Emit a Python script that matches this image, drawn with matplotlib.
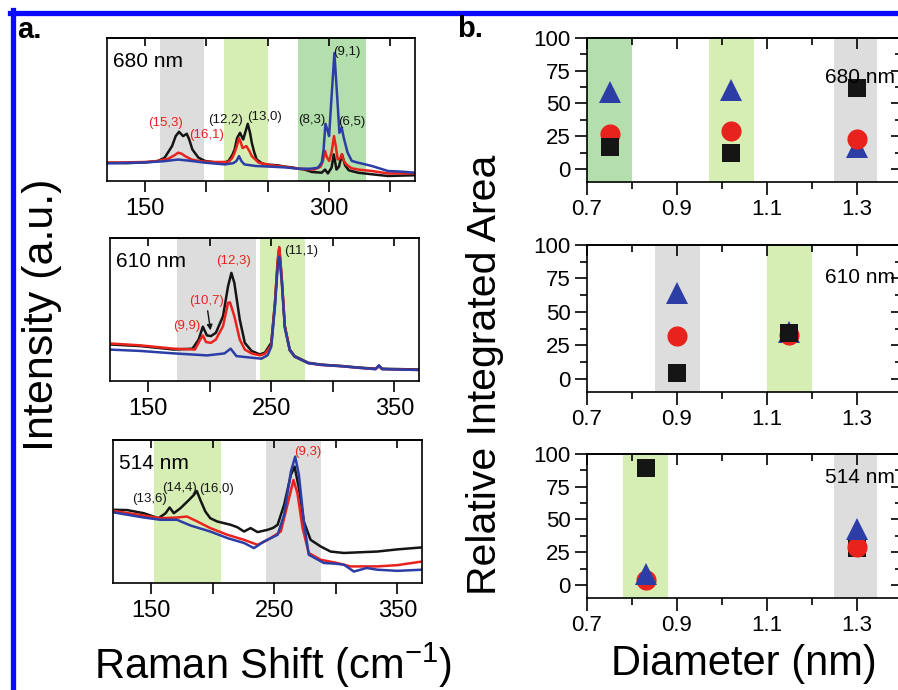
import matplotlib
matplotlib.use("Agg")
import matplotlib.pyplot as plt
from matplotlib.lines import Line2D

plt.rcParams.update({
    "font.family": ["Liberation Sans", "DejaVu Sans"],
    "mathtext.default": "regular",
    "axes.linewidth": 1.2,
})

BLACK = "#151515"
RED = "#e8231d"
BLUE = "#2c3ea6"
GRAY_BAND = "#dddddd"
LGREEN_BAND = "#d6eeb4"
DGREEN_BAND = "#b3dfac"

# ---- panel a: spectra (intensity in % of axis height) ----
X680_BLACK = [120, 135, 150, 160, 166, 172, 175, 177.7, 181, 184, 186, 188.6, 193.5, 199, 205, 210,
              215, 218, 221, 223, 225, 227.4, 230, 233.7, 235.5, 237, 239, 241, 245, 248, 253, 258,
              264, 270, 275, 280, 286, 291, 294, 296.7, 299, 302, 303.8, 306, 308, 310.5, 313, 316,
              323.6, 334.8, 348, 360, 370]
Y680_BLACK = [12.8, 12.5, 13, 13.8, 16.3, 24.4, 31.4, 34.4, 31.4, 33, 29, 22, 16.3, 14, 13.3, 12.8,
              13, 14, 18, 22, 30, 33.7, 29, 40, 34, 26.7, 20, 15, 12.5, 11.6, 11.3, 11,
              10, 9.5, 8.6, 8, 6.3, 6, 5.8, 8, 5.3, 9.3, 18.6, 8, 10, 18.6, 11, 7.5,
              5.8, 4.7, 3.5, 3.8, 4]
X680_RED = [120, 150, 160, 169, 174, 177, 180, 182.6, 188, 195, 205, 218, 221, 223, 225, 226.6, 228,
            229.5, 232.6, 235, 237, 242.6, 253, 264, 275, 288, 293, 295, 296.7, 298, 300, 302, 304,
            305.5, 307, 309, 310.3, 312, 314, 318, 323.6, 334.8, 348, 360, 370]
Y680_RED = [12.8, 13.3, 14, 15.6, 18, 19.8, 19, 17.4, 15, 13.8, 13.3, 13.3, 16, 19.8, 25, 30, 27,
            23, 24.4, 21, 17.4, 12.8, 11, 10, 8.6, 8, 10, 14, 21, 17, 14, 20, 31.4,
            24, 15, 16, 18.6, 14, 11.6, 9, 8, 7, 5.3, 5.3, 5.3]
X680_BLUE = [120, 150, 165, 177, 188, 199, 215, 222, 224.5, 226.6, 228.5, 231, 240, 253, 264, 275,
             285, 291, 294, 295.5, 297, 298.5, 300, 301.8, 304.3, 306.8, 308.4, 310.3, 312, 315,
             318.5, 323.6, 330, 334.8, 348, 360, 370]
Y680_BLUE = [12.3, 13, 13.8, 15, 14, 12.8, 11.6, 12.5, 14, 17.4, 14, 11.6, 10.5, 10, 9.5, 8.6,
             8.6, 9.3, 13, 22, 40, 36, 31.4, 56, 89.5, 56, 33.7, 37.2, 30, 20,
             14, 12.8, 11.5, 10.5, 7, 6.5, 5.8]

X610_BLACK = [118, 144, 171, 186, 191, 194.4, 197.7, 201, 205, 210.8, 214.9, 217.6, 220, 224.4,
              228.5, 234, 240.7, 244.8, 250, 253, 255.2, 256.5, 258.4, 261, 265, 269, 280, 290,
              307.5, 320, 334.7, 337.5, 340, 355, 372]
Y610_BLACK = [25.6, 24.4, 22, 22.6, 29, 38, 31.9, 31.4, 33.7, 45.3, 66.3, 75.6, 68.6, 43,
              26.7, 21, 18.6, 19.8, 26.7, 54.7, 82.6, 93, 73, 38.4, 22, 17.4, 12.8, 11.5,
              10.5, 9.5, 8.6, 10.5, 8.6, 8.3, 8]
X610_RED = [118, 144, 171, 188, 191.7, 194.4, 197, 201, 205, 210.8, 214.9, 216.5, 220, 224.4,
            228.5, 234, 240.7, 244.8, 250, 253, 255.2, 256.5, 258.4, 261, 265, 269, 280, 290,
            307.5, 320, 334.7, 337.5, 340, 355, 372]
Y610_RED = [26.3, 24.9, 22.6, 22, 28, 31.9, 27.2, 26.7, 29, 38.4, 54.7, 55, 45.3, 29,
            22, 19.3, 17.9, 19, 25, 54.7, 85, 93.7, 73, 38.4, 21.5, 17, 12.5, 11.3,
            10.3, 9.3, 8.3, 10.3, 8.3, 8, 7.7]
X610_BLUE = [118, 144, 171, 198, 212, 217, 221.7, 234, 242, 247, 250, 253, 255.2, 256.5, 258.4,
             261, 265, 269, 280, 290, 307.5, 320, 334.7, 337.5, 340, 355, 372]
Y610_BLUE = [22, 21, 19.3, 17.9, 19.3, 22.6, 17.4, 16.3, 15.6, 18, 24, 52, 80, 87, 70.7,
             37, 21.5, 17, 12.5, 11.3, 10.3, 9.3, 8.3, 11, 8.3, 8, 7.7]

X514_BLACK = [118.6, 130.5, 144, 156, 161.7, 165, 168.4, 173.8, 180.6, 184.7, 187, 190, 194, 198,
              203.7, 214.6, 220, 225.4, 230.8, 236.4, 244.6, 249, 252.7, 258, 263.5, 266.5, 270,
              274, 279.5, 287.6, 295.7, 306.6, 320, 333.7, 350, 370]
Y514_BLACK = [51.2, 51, 48.8, 45.3, 48.8, 52.8, 48.8, 52.3, 58, 61.6, 64.4, 58, 50, 45.3,
              43, 40.7, 39, 36, 38.4, 35.6, 37.2, 38.5, 40.7, 54.7, 75.6, 81.4, 66.3,
              43, 30.2, 25.6, 22, 21, 21.5, 22, 23.5, 24.9]
X514_RED = [118.6, 144, 157.6, 171, 179, 187.5, 198, 212, 225.4, 236.4, 242, 247, 255.3, 260.7,
            265.6, 268.8, 273, 278, 287.6, 301, 312, 333.7, 350, 370]
Y514_RED = [50.5, 47.2, 45.3, 45.8, 46.5, 43, 38.4, 33.7, 30.2, 26.7, 29, 31.4, 36, 54.7,
            72, 62.8, 38.4, 21, 16.3, 14, 11.6, 11.6, 12.5, 15]
X514_BLUE = [118.6, 144, 157.6, 171, 182, 198, 212, 225.4, 233.5, 241.6, 252.7, 258, 263.5, 267,
             270, 274, 278, 290.3, 300, 306.6, 314.7, 325, 333.7, 350, 370]
Y514_BLUE = [49.5, 45.8, 44.2, 44.2, 40.2, 36, 31.4, 28, 24.4, 29, 33.7, 47.7, 78, 88.4,
             75.6, 43, 19.8, 14, 13.5, 12.8, 8, 10.5, 9.3, 8.5, 9.3]

# ---- panel b: relative integrated area ----
D680 = [0.75, 1.02, 1.30]
SQ680 = [17, 12, 62]
CI680 = [27, 29, 23]
TR680 = [59, 60, 17]
D610 = [0.90, 1.15]
SQ610 = [4, 34]
CI610 = [32, 33]
TR610 = [64, 35]
D514 = [0.83, 1.30]
SQ514 = [89, 28]
CI514 = [4, 29]
TR514 = [8, 43]

SPECTRA = [
    ("680 nm", [(X680_BLACK, Y680_BLACK, BLACK), (X680_RED, Y680_RED, RED), (X680_BLUE, Y680_BLUE, BLUE)],
     [(162, 198, GRAY_BAND), (214, 250, LGREEN_BAND), (275, 330, DGREEN_BAND)],
     [150, 300],
     [("(15,3)", 167, 40.5, RED), ("(16,1)", 200, 32, RED), ("(12,2)", 215.6, 42.6, BLACK),
      ("(13,0)", 247, 44.5, BLACK), ("(8,3)", 286, 42.6, BLACK), ("(9,1)", 314.5, 90, BLACK),
      ("(6,5)", 318.5, 41.5, BLACK)]),
    ("610 nm", [(X610_BLACK, Y610_BLACK, BLACK), (X610_RED, Y610_RED, RED), (X610_BLUE, Y610_BLUE, BLUE)],
     [(173.4, 237.2, GRAY_BAND), (240.7, 277, LGREEN_BAND)],
     [150, 250, 350],
     [("(12,3)", 219, 83.7, RED), ("(10,7)", 197, 55.8, RED), ("(9,9)", 181.3, 38.8, RED),
      ("(11,1)", 274, 90.7, BLACK)]),
    ("514 nm", [(X514_BLACK, Y514_BLACK, BLACK), (X514_RED, Y514_RED, RED), (X514_BLUE, Y514_BLUE, BLUE)],
     [(152.2, 206.4, LGREEN_BAND), (243, 288, GRAY_BAND)],
     [150, 250, 350],
     [("(13,6)", 149, 58.8, BLACK), ("(14,4)", 173, 66.7, BLACK), ("(16,0)", 203, 65.8, BLACK),
      ("(9,3)", 277, 91.4, RED)]),
]
AREAS = [
    ("680 nm", D680, SQ680, CI680, TR680,
     [(0.70, 0.80, DGREEN_BAND), (0.97, 1.07, LGREEN_BAND), (1.25, 1.345, GRAY_BAND)], 70, "tcs"),
    ("610 nm", D610, SQ610, CI610, TR610,
     [(0.85, 0.95, GRAY_BAND), (1.10, 1.20, LGREEN_BAND)], 76, "tcs"),
    ("514 nm", D514, SQ514, CI514, TR514,
     [(0.78, 0.88, LGREEN_BAND), (1.25, 1.345, GRAY_BAND)], 82, "sct"),
]

W, H = 898, 690


def px_rect(x0, y0, x1, y1):
    return [x0 / W, 1 - y1 / H, (x1 - x0) / W, (y1 - y0) / H]


fig = plt.figure(figsize=(W / 100, H / 100), dpi=100)

a_rects = [px_rect(107, 38, 415, 181), px_rect(110, 238, 419, 381), px_rect(113, 440, 422, 583)]
for rect, (name, curves, bands, labelled, notes) in zip(a_rects, SPECTRA):
    ax = fig.add_axes(rect)
    for lo, hi, c in bands:
        ax.axvspan(lo, hi, color=c, lw=0, zorder=0)
    for xs, ys, c in curves:
        ax.plot(xs, ys, color=c, lw=1.8, zorder=2)
    for txt, x, y, c in notes:
        ax.text(x, y, txt, color=c, fontsize=9.5, ha="center", va="center", zorder=3)
    ax.text(124, 83.5, name, fontsize=15, ha="left", va="center", zorder=3)
    ax.set_xlim(119, 370)
    ax.set_ylim(0, 100)
    ticks = [150, 200, 250, 300, 350]
    ax.set_xticks(ticks)
    ax.set_xticklabels([str(t) if t in labelled else "" for t in ticks])
    ax.set_yticks([])
    ax.tick_params(axis="x", direction="out", length=8, width=1.2, labelsize=17, pad=4)
    top = ax.secondary_xaxis("top")
    top.set_xticks(ticks)
    top.set_xticklabels([])
    top.tick_params(direction="in", length=6, width=1.2)
    if name == "610 nm":
        ax.annotate("", xy=(201, 33.5), xytext=(198, 51),
                    arrowprops=dict(arrowstyle="-|>", color=BLACK, lw=1.0, mutation_scale=8))

b_rects = [px_rect(587, 38, 902, 182), px_rect(587, 245, 902, 392), px_rect(587, 454, 902, 598)]
for rect, (name, ds, sq, ci, tr, bands, ty, order) in zip(b_rects, AREAS):
    ax = fig.add_axes(rect)
    for lo, hi, c in bands:
        ax.axvspan(lo, hi, color=c, lw=0, zorder=0)
    styles = {
        "s": (sq, "s", BLACK, 13),
        "c": (ci, "o", RED, 14.5),
        "t": (tr, "^", BLUE, 16),
    }
    for z, key in enumerate(order):
        vals, mk, c, ms = styles[key]
        ax.plot(ds, vals, ls="none", marker=mk, color=c, ms=ms, mew=0, zorder=3 + z)
    ax.text(1.385, ty, name, fontsize=15, ha="right", va="center", zorder=6)
    ax.set_xlim(0.7, 1.4)
    ax.set_ylim(-10, 100)
    ax.set_xticks([0.7, 0.9, 1.1, 1.3])
    ax.set_xticks([0.8, 1.0, 1.2, 1.4], minor=True)
    ax.set_yticks([0, 25, 50, 75, 100])
    ax.set_yticks([12.5, 37.5, 62.5, 87.5], minor=True)
    ax.tick_params(which="major", direction="out", length=9, width=1.2, labelsize=16, pad=3)
    ax.tick_params(which="minor", direction="out", length=5, width=1.2)
    top = ax.secondary_xaxis("top")
    top.set_xticks([0.7, 0.9, 1.1, 1.3])
    top.set_xticks([0.8, 1.0, 1.2, 1.4], minor=True)
    top.set_xticklabels([])
    top.tick_params(which="major", direction="in", length=8, width=1.2)
    top.tick_params(which="minor", direction="in", length=5, width=1.2)
    right = ax.secondary_yaxis("right")
    right.set_yticks([0, 25, 50, 75, 100])
    right.set_yticks([12.5, 37.5, 62.5, 87.5], minor=True)
    right.set_yticklabels([])
    right.tick_params(which="major", direction="in", length=8, width=1.2)
    right.tick_params(which="minor", direction="in", length=5, width=1.2)

fig.text(17 / W, 1 - 38 / H, "a.", fontsize=21, fontweight="bold", ha="left", va="baseline")
fig.text(457 / W, 1 - 37 / H, "b.", fontsize=21, fontweight="bold", ha="left", va="baseline")
fig.text(42 / W, 1 - 315 / H, "Intensity (a.u.)", fontsize=31, rotation=90, ha="center", va="center")
fig.text(273 / W, 11 / H, "Raman Shift (cm$^{-1}$)", fontsize=30, ha="center", va="baseline")
fig.text(485 / W, 1 - 375 / H, "Relative Integrated Area", fontsize=29.5, rotation=90,
         ha="center", va="center")
fig.text(744 / W, 15 / H, "Diameter (nm)", fontsize=30, ha="center", va="baseline")

# blue frame of the original figure
fig.add_artist(Line2D([12.5 / W, 12.5 / W], [0, 1 - 10 / H], transform=fig.transFigure,
                      color="#0a0aff", lw=3.8))
fig.add_artist(Line2D([10 / W, 1], [1 - 12.5 / H, 1 - 12.5 / H], transform=fig.transFigure,
                      color="#0a0aff", lw=3.8))

fig.savefig("out.png", dpi=100)
